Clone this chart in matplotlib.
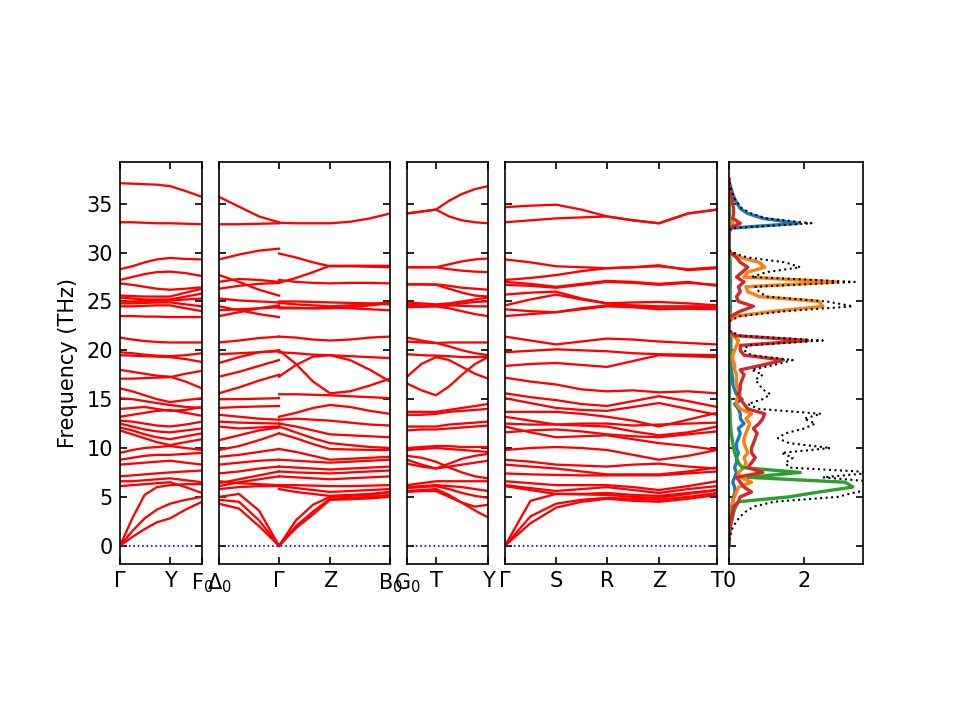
import matplotlib
matplotlib.use("Agg")
import matplotlib.pyplot as plt
import numpy as np

# ---------------- data ----------------
y_range = (-1.87, 39.27)

# Panel 1: Gamma - Y - F0
p1_labels = ["Γ", "Y", "F$_0$"]
p1_nodes = [0.0, 0.61, 1.0]
p1_k = [0.0, 0.15, 0.30, 0.45, 0.61, 0.80, 1.0]
p1_bands = [
    [37.1, 37.05, 37.0, 36.95, 36.8, 36.3, 35.7],
    [33.1, 33.1, 33.05, 33.0, 33.0, 32.95, 32.9],
    [28.3, 28.6, 29.0, 29.3, 29.45, 29.35, 29.3],
    [27.2, 27.5, 27.8, 28.0, 28.05, 27.9, 27.6],
    [26.85, 26.7, 26.5, 26.3, 26.2, 26.3, 26.45],
    [25.6, 25.55, 25.5, 25.5, 25.5, 25.9, 26.3],
    [25.4, 25.3, 25.2, 25.2, 25.2, 25.5, 25.8],
    [25.0, 25.0, 25.05, 25.1, 25.1, 25.2, 25.3],
    [24.8, 24.8, 24.85, 24.9, 24.9, 24.7, 24.5],
    [24.5, 24.5, 24.55, 24.6, 24.6, 24.3, 24.0],
    [23.5, 23.5, 23.45, 23.45, 23.4, 23.4, 23.4],
    [21.3, 21.1, 20.95, 20.85, 20.8, 20.8, 20.8],
    [19.8, 19.7, 19.55, 19.45, 19.4, 19.5, 19.7],
    [19.5, 19.45, 19.4, 19.35, 19.3, 19.1, 18.8],
    [18.0, 17.8, 17.6, 17.4, 17.3, 16.8, 16.1],
    [17.1, 17.1, 17.15, 17.2, 17.25, 17.6, 17.9],
    [16.1, 15.8, 15.4, 15.0, 14.7, 14.9, 15.1],
    [15.1, 15.0, 14.8, 14.6, 14.4, 14.2, 14.1],
    [14.0, 14.1, 14.2, 14.0, 13.8, 13.9, 14.2],
    [13.2, 13.4, 13.6, 13.8, 13.9, 13.6, 13.3],
    [12.8, 12.7, 12.5, 12.3, 12.2, 12.4, 12.7],
    [12.5, 12.2, 11.9, 11.7, 11.6, 11.8, 12.0],
    [12.1, 11.8, 11.4, 11.1, 10.9, 11.2, 11.5],
    [11.8, 11.4, 11.0, 10.6, 10.3, 10.6, 10.9],
    [9.5, 9.8, 10.0, 10.1, 10.2, 10.0, 9.8],
    [8.8, 9.0, 9.2, 9.3, 9.3, 9.4, 9.5],
    [8.3, 8.4, 8.5, 8.6, 8.7, 8.5, 8.3],
    [7.1, 7.2, 7.3, 7.4, 7.5, 7.6, 7.7],
    [6.6, 6.6, 6.7, 6.8, 6.9, 6.7, 6.5],
    [6.1, 6.2, 6.3, 6.4, 6.5, 6.0, 5.4],
    [0.0, 2.8, 5.2, 6.0, 6.2, 6.3, 6.3],
    [0.0, 1.5, 2.8, 3.7, 4.3, 4.7, 5.0],
    [0.0, 0.9, 1.7, 2.4, 2.8, 3.7, 4.5],
]

# Panel 2: Delta0 - Gamma - Z - B0 (discontinuous at Gamma)
p2_labels = ["Δ$_0$", "Γ", "Z", "B$_0$"]
p2_nodes = [0.0, 0.351, 0.649, 1.0]
p2_k_left = [0.0, 0.117, 0.234, 0.351]
p2_bands_left = [
    [35.7, 34.7, 33.7, 33.1],
    [32.9, 32.9, 32.95, 33.0],
    [29.3, 29.8, 30.2, 30.4],
    [27.7, 27.0, 26.2, 25.6],
    [27.0, 27.3, 27.2, 27.0],
    [26.3, 26.6, 26.8, 26.9],
    [25.3, 25.1, 25.0, 24.9],
    [24.5, 24.1, 23.7, 23.4],
    [24.1, 24.2, 24.3, 24.4],
    [23.5, 23.9, 24.3, 24.6],
    [20.8, 21.0, 21.25, 21.4],
    [19.6, 19.7, 19.8, 19.9],
    [18.7, 19.3, 19.8, 20.0],
    [17.3, 17.8, 18.4, 19.0],
    [15.6, 16.2, 16.9, 17.5],
    [15.0, 15.0, 15.05, 15.1],
    [14.1, 14.2, 14.25, 14.3],
    [13.4, 13.2, 13.0, 12.9],
    [12.7, 12.6, 12.55, 12.5],
    [12.2, 12.0, 12.1, 12.2],
    [10.8, 11.3, 11.8, 12.1],
    [9.8, 10.2, 10.8, 11.5],
    [9.1, 9.3, 9.6, 9.9],
    [8.3, 8.5, 8.7, 8.8],
    [7.4, 7.6, 7.9, 8.1],
    [6.4, 6.8, 7.2, 7.6],
    [6.1, 6.5, 6.8, 7.1],
    [6.6, 6.4, 6.3, 6.2],
    [5.8, 6.0, 6.1, 6.1],
    [5.0, 5.3, 3.6, 0.0],
    [4.7, 4.5, 2.6, 0.0],
    [4.3, 3.8, 2.0, 0.0],
]
p2_k_right = [0.351, 0.450, 0.550, 0.649, 0.766, 0.883, 1.0]
p2_bands_right = [
    [33.05, 33.0, 33.0, 33.0, 33.15, 33.5, 34.0],
    [29.9, 29.5, 29.0, 28.6, 28.6, 28.55, 28.5],
    [26.9, 27.4, 28.0, 28.65, 28.65, 28.65, 28.65],
    [27.2, 27.0, 26.9, 26.85, 26.9, 26.9, 26.85],
    [25.0, 25.0, 24.95, 24.9, 24.85, 24.8, 24.7],
    [24.85, 24.7, 24.6, 24.5, 24.6, 24.75, 24.9],
    [24.4, 24.35, 24.3, 24.3, 24.4, 24.6, 24.8],
    [24.3, 24.3, 24.3, 24.35, 24.3, 24.2, 24.1],
    [21.4, 21.3, 21.1, 21.0, 21.1, 21.3, 21.4],
    [20.0, 18.6, 16.8, 15.6, 15.8, 16.4, 17.1],
    [17.3, 18.5, 19.35, 19.5, 19.0, 18.0, 16.8],
    [19.8, 19.7, 19.55, 19.5, 19.4, 19.3, 19.2],
    [15.5, 15.5, 15.45, 15.4, 15.3, 15.2, 15.1],
    [13.2, 13.6, 14.1, 14.4, 14.2, 13.8, 13.5],
    [12.9, 13.0, 12.9, 12.8, 12.6, 12.4, 12.3],
    [12.5, 12.2, 11.8, 11.4, 11.3, 11.2, 11.1],
    [12.2, 11.6, 11.0, 10.5, 10.3, 10.1, 10.0],
    [11.5, 11.0, 10.4, 9.9, 9.85, 9.8, 9.8],
    [9.9, 9.6, 9.2, 8.8, 8.9, 9.0, 9.1],
    [8.8, 8.7, 8.6, 8.5, 8.6, 8.7, 8.8],
    [8.1, 8.0, 7.9, 7.8, 7.9, 8.0, 8.1],
    [7.6, 7.5, 7.45, 7.4, 7.5, 7.6, 7.7],
    [7.1, 7.0, 6.9, 6.8, 6.9, 7.0, 7.1],
    [6.2, 6.2, 6.15, 6.1, 6.1, 6.15, 6.2],
    [6.1, 5.9, 5.7, 5.5, 5.6, 5.7, 5.8],
    [5.8, 5.5, 5.3, 5.1, 5.2, 5.3, 5.5],
    [0.0, 2.6, 4.2, 5.0, 5.1, 5.2, 5.5],
    [0.0, 2.0, 3.5, 4.8, 4.9, 5.0, 5.2],
    [0.0, 1.8, 3.2, 4.7, 4.75, 4.85, 5.0],
]

# Panel 3: G0 - T - Y
p3_labels = ["G$_0$", "T", "Y"]
p3_nodes = [0.0, 0.358, 1.0]
p3_k = [0.0, 0.179, 0.358, 0.519, 0.679, 0.84, 1.0]
p3_bands = [
    [34.0, 34.2, 34.4, 35.3, 36.0, 36.5, 36.8],
    [34.0, 34.2, 34.4, 33.7, 33.3, 33.1, 33.0],
    [28.5, 28.5, 28.5, 28.8, 29.1, 29.3, 29.4],
    [28.5, 28.5, 28.5, 28.3, 28.15, 28.05, 28.0],
    [26.75, 26.75, 26.75, 26.6, 26.4, 26.3, 26.2],
    [26.75, 26.75, 26.7, 26.3, 25.9, 25.6, 25.5],
    [24.9, 24.8, 24.7, 24.8, 25.0, 25.2, 25.4],
    [24.7, 24.6, 24.5, 24.6, 24.8, 24.95, 25.0],
    [24.5, 24.5, 24.55, 24.6, 24.55, 24.5, 24.5],
    [24.4, 24.45, 24.5, 24.3, 24.0, 23.7, 23.5],
    [21.3, 21.0, 20.75, 20.8, 20.8, 20.8, 20.8],
    [20.9, 20.8, 20.75, 20.4, 20.0, 19.7, 19.5],
    [19.6, 19.5, 19.45, 19.4, 19.3, 19.3, 19.35],
    [17.3, 18.6, 19.3, 19.0, 18.3, 17.6, 17.1],
    [16.6, 15.9, 15.4, 16.3, 17.5, 18.6, 19.3],
    [13.7, 13.7, 13.7, 13.9, 14.1, 14.3, 14.5],
    [13.4, 13.4, 13.5, 13.7, 13.8, 13.9, 14.0],
    [12.2, 12.2, 12.2, 12.4, 12.5, 12.6, 12.7],
    [11.8, 11.9, 11.9, 12.0, 12.1, 12.2, 12.3],
    [10.0, 10.1, 10.2, 10.2, 10.1, 10.1, 10.1],
    [9.8, 9.9, 10.0, 9.9, 9.8, 9.7, 9.6],
    [8.8, 8.3, 7.9, 8.4, 8.9, 9.2, 9.4],
    [8.4, 8.1, 7.9, 8.1, 8.3, 8.5, 8.7],
    [9.2, 9.0, 8.6, 8.0, 7.5, 7.1, 6.9],
    [6.2, 6.4, 6.6, 6.6, 6.6, 6.6, 6.6],
    [6.0, 6.1, 6.2, 6.1, 6.0, 5.8, 5.6],
    [5.9, 6.0, 6.1, 5.8, 5.4, 5.1, 4.9],
    [5.6, 5.7, 5.8, 5.2, 4.4, 3.6, 2.9],
    [5.5, 5.6, 5.6, 5.0, 4.4, 4.0, 4.2],
]

# Panel 4: Gamma - S - R - Z - T
p4_labels = ["Γ", "S", "R", "Z", "T"]
p4_nodes = [0.0, 0.241, 0.481, 0.726, 1.0]
p4_k = [0.0, 0.12, 0.241, 0.361, 0.481, 0.604, 0.726, 0.863, 1.0]
p4_bands = [
    [34.65, 34.8, 34.9, 34.4, 33.7, 33.3, 33.0, 34.0, 34.4],
    [33.1, 33.3, 33.5, 33.6, 33.7, 33.3, 33.0, 34.0, 34.4],
    [29.3, 29.0, 28.6, 28.5, 28.4, 28.5, 28.6, 28.3, 28.5],
    [27.2, 27.4, 27.7, 28.1, 28.4, 28.5, 28.7, 28.2, 28.4],
    [27.0, 26.8, 26.5, 26.8, 27.1, 27.0, 26.8, 27.0, 26.6],
    [26.7, 26.6, 26.4, 26.7, 27.0, 26.9, 26.7, 26.9, 26.7],
    [25.7, 25.9, 26.0, 25.3, 24.8, 24.9, 24.95, 24.8, 24.6],
    [24.6, 25.2, 25.7, 25.2, 24.8, 24.6, 24.5, 24.5, 24.5],
    [24.2, 24.0, 23.9, 24.3, 24.6, 24.5, 24.3, 24.25, 24.2],
    [23.5, 23.7, 23.9, 24.2, 24.5, 24.4, 24.2, 24.3, 24.4],
    [21.4, 21.0, 20.6, 20.9, 21.2, 21.1, 20.9, 20.75, 20.6],
    [19.8, 19.95, 20.1, 20.0, 19.9, 19.7, 19.6, 19.55, 19.5],
    [18.4, 18.6, 18.7, 18.5, 18.3, 18.9, 19.5, 19.4, 19.3],
    [17.2, 16.8, 16.5, 16.0, 15.8, 15.9, 15.7, 15.8, 15.6],
    [15.6, 15.2, 14.9, 14.5, 14.3, 14.8, 15.3, 14.8, 14.2],
    [15.1, 14.6, 14.1, 13.9, 13.8, 14.2, 14.6, 14.0, 13.4],
    [13.7, 13.7, 13.7, 13.5, 13.2, 12.8, 12.2, 12.9, 13.6],
    [13.2, 12.8, 12.4, 12.5, 12.5, 12.3, 12.4, 12.5, 12.6],
    [12.5, 12.4, 12.4, 12.3, 12.2, 11.7, 11.3, 11.6, 12.2],
    [12.2, 11.6, 11.1, 11.2, 11.3, 10.9, 10.5, 10.2, 9.8],
    [11.6, 11.8, 11.9, 11.7, 11.4, 11.2, 11.1, 11.4, 11.7],
    [9.8, 10.0, 10.1, 10.0, 9.8, 9.3, 8.8, 9.2, 9.8],
    [8.8, 8.6, 8.3, 8.2, 8.1, 8.3, 8.4, 8.1, 7.9],
    [8.3, 8.1, 7.9, 7.6, 7.3, 7.3, 7.3, 7.6, 8.0],
    [7.4, 7.3, 7.25, 7.2, 7.2, 7.2, 7.2, 7.4, 7.6],
    [6.6, 6.4, 6.2, 6.2, 6.2, 6.0, 5.7, 6.1, 6.6],
    [6.2, 5.9, 5.6, 5.8, 6.0, 5.7, 5.4, 5.8, 6.1],
    [6.1, 5.7, 5.3, 5.25, 5.2, 5.0, 4.9, 5.3, 5.7],
    [0.0, 4.6, 5.3, 5.3, 5.4, 5.2, 5.1, 5.4, 5.7],
    [0.0, 3.0, 4.3, 4.7, 4.9, 4.8, 4.7, 5.0, 5.4],
    [0.0, 2.3, 3.9, 4.5, 4.8, 4.6, 4.5, 4.8, 5.2],
]

# DOS (frequency grid in THz, step 0.5)
dos_freq = np.arange(0.0, 37.75, 0.5)
dos_total = [
    0.0, 0.01, 0.03, 0.06, 0.12, 0.2, 0.3, 0.45, 0.65, 1.2,      # 0 - 4.5
    2.9, 3.4, 4.3, 4.0, 2.5, 3.9, 1.6, 1.5, 1.7, 1.4,            # 5 - 9.5
    2.7, 1.6, 1.3, 1.5, 2.0, 2.3, 2.0, 2.45, 0.8, 0.5,           # 10 - 14.5
    0.9, 1.1, 0.9, 0.8, 0.7, 0.9, 0.6, 1.2, 1.7, 0.6,            # 15 - 19.5
    0.4, 0.5, 2.5, 0.3, 0.02, 0.0, 0.02, 0.3, 1.5, 3.3,          # 20 - 24.5
    2.6, 1.0, 0.8, 0.7, 3.35, 0.6, 1.0, 1.9, 1.5, 0.5,           # 25 - 29.5
    0.05, 0.0, 0.0, 0.0, 0.0, 0.05, 2.2, 1.0, 0.6, 0.35,         # 30 - 34.5
    0.25, 0.15, 0.1, 0.05, 0.02, 0.0,                            # 35 - 37.5
]
dos_pdos_1 = [   # blue
    0.0, 0.0, 0.01, 0.01, 0.02, 0.03, 0.04, 0.05, 0.07, 0.1,
    0.12, 0.16, 0.15, 0.1, 0.15, 0.2, 0.15, 0.2, 0.2, 0.25,
    0.2, 0.2, 0.25, 0.3, 0.25, 0.4, 0.3, 0.3, 0.25, 0.15,
    0.35, 0.2, 0.15, 0.1, 0.1, 0.08, 0.06, 0.05, 0.05, 0.05,
    0.05, 0.05, 0.05, 0.05, 0.0, 0.0, 0.0, 0.03, 0.03, 0.04,
    0.03, 0.03, 0.03, 0.03, 0.04, 0.03, 0.03, 0.03, 0.03, 0.02,
    0.0, 0.0, 0.0, 0.0, 0.0, 0.05, 1.85, 0.9, 0.5, 0.3,
    0.22, 0.15, 0.1, 0.06, 0.02, 0.0,
]
dos_pdos_2 = [   # orange
    0.0, 0.0, 0.01, 0.01, 0.02, 0.03, 0.04, 0.06, 0.08, 0.1,
    0.15, 0.2, 0.25, 0.6, 0.3, 0.25, 0.4, 0.45, 0.4, 0.5,
    0.45, 0.4, 0.4, 0.45, 0.5, 0.55, 0.45, 0.6, 0.3, 0.2,
    0.2, 0.3, 0.25, 0.2, 0.2, 0.2, 0.15, 0.15, 0.1, 0.1,
    0.15, 0.2, 0.25, 0.1, 0.0, 0.0, 0.0, 0.2, 1.2, 2.5,
    2.4, 0.8, 0.5, 0.45, 2.85, 0.4, 0.5, 0.95, 0.8, 0.3,
    0.02, 0.0, 0.0, 0.0, 0.0, 0.02, 0.1, 0.03, 0.0, 0.0,
    0.0, 0.0, 0.0, 0.0, 0.0, 0.0,
]
dos_pdos_3 = [   # green
    0.0, 0.0, 0.01, 0.02, 0.04, 0.07, 0.1, 0.13, 0.18, 0.25,
    1.6, 2.4, 3.3, 3.1, 0.5, 1.9, 0.35, 0.25, 0.2, 0.15,
    0.12, 0.1, 0.08, 0.06, 0.05, 0.04, 0.03, 0.03, 0.02, 0.02,
    0.02, 0.01, 0.01, 0.01, 0.01, 0.01, 0.01, 0.01, 0.01, 0.01,
    0.01, 0.01, 0.01, 0.01, 0.0, 0.0, 0.0, 0.01, 0.01, 0.01,
    0.01, 0.01, 0.01, 0.01, 0.01, 0.01, 0.01, 0.01, 0.01, 0.01,
    0.0, 0.0, 0.0, 0.0, 0.0, 0.0, 0.01, 0.01, 0.01, 0.01,
    0.01, 0.01, 0.0, 0.0, 0.0, 0.0,
]
dos_pdos_4 = [   # red
    0.0, 0.0, 0.01, 0.02, 0.03, 0.05, 0.07, 0.1, 0.12, 0.25,
    0.3, 0.6, 0.4, 0.3, 0.2, 0.9, 0.5, 0.6, 0.7, 0.6,
    0.6, 0.65, 0.7, 0.75, 0.65, 0.8, 0.9, 0.95, 0.5, 0.4,
    0.3, 0.25, 0.3, 0.3, 0.35, 0.4, 0.3, 0.9, 1.45, 0.4,
    0.3, 0.3, 2.1, 0.15, 0.0, 0.0, 0.0, 0.05, 0.3, 0.65,
    0.25, 0.2, 0.3, 0.25, 0.4, 0.2, 0.35, 0.5, 0.3, 0.2,
    0.02, 0.0, 0.0, 0.0, 0.0, 0.0, 0.3, 0.1, 0.12, 0.12,
    0.1, 0.08, 0.05, 0.03, 0.01, 0.0,
]
dos_xticks = [0, 2]
dos_xmax = 3.57

# ---------------- plotting ----------------
fig = plt.figure(figsize=(6.4, 4.8), dpi=150)
bottom, height = 156 / 720, 402 / 720
ax1 = fig.add_axes([120 / 960, bottom, 82 / 960, height])
ax2 = fig.add_axes([219 / 960, bottom, 171 / 960, height])
ax3 = fig.add_axes([407 / 960, bottom, 81 / 960, height])
ax4 = fig.add_axes([505 / 960, bottom, 212 / 960, height])
ax5 = fig.add_axes([729 / 960, bottom, 134 / 960, height])

band_kw = dict(color="r", lw=1.1)


def style_band_axis(ax, nodes, labels, show_y):
    ax.set_xlim(0, 1)
    ax.set_ylim(*y_range)
    ax.set_xticks(nodes)
    ax.set_xticklabels(labels)
    ax.set_yticks([0, 5, 10, 15, 20, 25, 30, 35])
    ax.tick_params(direction="in", top=True, right=True, labelsize=10)
    if not show_y:
        ax.tick_params(labelleft=False)
    ax.axhline(0, color="b", ls=":", lw=0.8)


for b in p1_bands:
    ax1.plot(p1_k, b, **band_kw)
style_band_axis(ax1, p1_nodes, p1_labels, True)
ax1.set_ylabel("Frequency (THz)")

for b in p2_bands_left:
    ax2.plot(p2_k_left, b, **band_kw)
for b in p2_bands_right:
    ax2.plot(p2_k_right, b, **band_kw)
style_band_axis(ax2, p2_nodes, p2_labels, False)

for b in p3_bands:
    ax3.plot(p3_k, b, **band_kw)
style_band_axis(ax3, p3_nodes, p3_labels, False)

for b in p4_bands:
    ax4.plot(p4_k, b, **band_kw)
style_band_axis(ax4, p4_nodes, p4_labels, False)

pdos_colors = ["tab:blue", "tab:orange", "tab:green", "tab:red"]
for series, c in zip([dos_pdos_1, dos_pdos_2, dos_pdos_3, dos_pdos_4], pdos_colors):
    ax5.plot(series, dos_freq, color=c, lw=1.6)
ax5.plot(dos_total, dos_freq, color="k", ls=":", lw=1.0)
ax5.set_xlim(0, dos_xmax)
ax5.set_ylim(*y_range)
ax5.set_xticks(dos_xticks)
ax5.set_yticks([0, 5, 10, 15, 20, 25, 30, 35])
ax5.tick_params(direction="in", top=True, right=True, labelleft=False, labelsize=10)

fig.savefig("out.png", dpi=150)
